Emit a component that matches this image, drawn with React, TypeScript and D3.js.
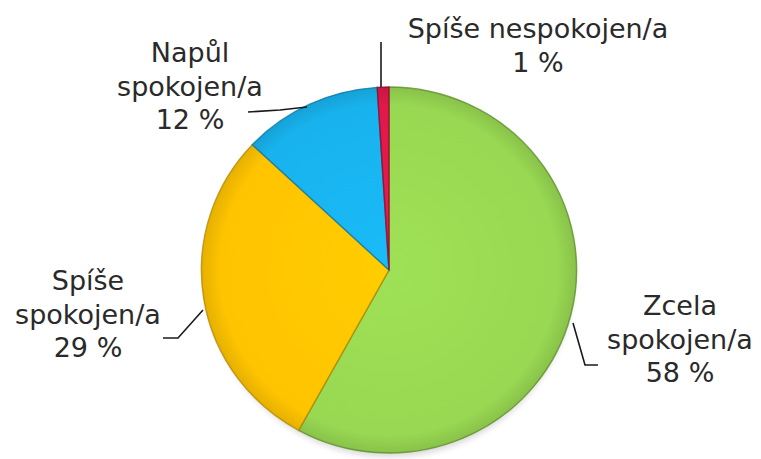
import * as d3 from 'd3'

const W = 761
const H = 459

// slices, clockwise from 12 o'clock
const labels = ['Zcela spokojen/a', 'Spíše spokojen/a', 'Napůl spokojen/a', 'Spíše nespokojen/a']
const values = [58, 29, 12, 1]
const colors = ['#98D852', '#FFC400', '#18B3EE', '#E0194A']
const edge = ['#5E8F2A', '#B88A00', '#0B7AA6', '#8A0E2C']

// label text lines + where the text block sits
const labelLines = [
  ['Zcela', 'spokojen/a', '58 %'],
  ['Spíše', 'spokojen/a', '29 %'],
  ['Napůl', 'spokojen/a', '12 %'],
  ['Spíše nespokojen/a', '1 %'],
]
const labelPos: [number, number][] = [[680, 315], [88, 290], [190, 62], [538, 38]]
// leader lines: label end → elbow → slice edge
const leaders: [number, number][][] = [
  [[598, 365], [585, 365], [573, 323]],
  [[163, 338], [178, 338], [203, 310]],
  [[248, 112], [280, 110], [307, 107]],
  [[381, 42], [381, 87]],
]

const cx = 389
const cy = 270
const R = 183

export default function App() {
  const pie = d3.pie<number>().sort(null).startAngle(0).endAngle(2 * Math.PI)
  const arcs = pie(values)
  const arc = d3.arc<d3.PieArcDatum<number>>().innerRadius(0).outerRadius(R)
  const line = d3.line()

  return (
    <svg width={W} height={H} style={{ position: 'absolute', left: 0, top: 0, background: '#fff' }}>
      <defs>
        {colors.map((c, i) => (
          <radialGradient key={i} id={`g${i}`} gradientUnits="userSpaceOnUse" cx={0} cy={0} r={R}>
            <stop offset="0%" stopColor={d3.color(c)!.brighter(0.12).formatHex()} />
            <stop offset="90%" stopColor={c} />
            <stop offset="100%" stopColor={d3.color(c)!.darker(0.3).formatHex()} />
          </radialGradient>
        ))}
        <filter id="sh" x="-20%" y="-20%" width="140%" height="140%">
          <feGaussianBlur stdDeviation="3" />
        </filter>
      </defs>
      <ellipse cx={cx + 1} cy={cy + 4} rx={R + 1} ry={R} fill="#000" opacity={0.15} filter="url(#sh)" />
      <g transform={`translate(${cx},${cy}) scale(1.025,1)`}>
        {arcs.map((a, i) => (
          <path key={i} d={arc(a) ?? ''} fill={`url(#g${i})`} stroke={edge[i]} strokeWidth={1.4} strokeOpacity={0.8} />
        ))}
      </g>
      {leaders.map((pts, i) => (
        <path key={i} d={line(pts) ?? ''} fill="none" stroke="#1a1a1a" strokeWidth={1.6} />
      ))}
      {labelLines.map((ls, i) => (
        <text key={i} x={labelPos[i][0]} y={labelPos[i][1]} textAnchor="middle"
          fontFamily="Verdana, 'DejaVu Sans', sans-serif" fontSize={27} fill="#2a2a2a">
          {ls.map((t, j) => (
            <tspan key={j} x={labelPos[i][0]} dy={j === 0 ? 0 : 33.5}>{t}</tspan>
          ))}
        </text>
      ))}
    </svg>
  )
}
